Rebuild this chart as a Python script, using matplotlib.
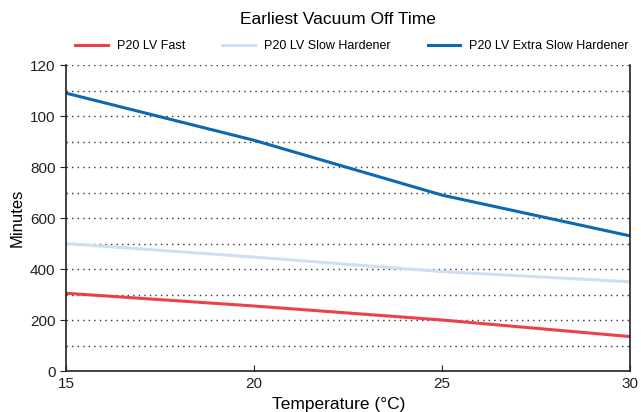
import matplotlib.pyplot as plt
from matplotlib.ticker import MultipleLocator

plt.rcParams['font.family'] = ['Liberation Sans', 'DejaVu Sans']

# Data
temperature = [15, 20, 25, 30]
fast = [305, 255, 200, 135]
slow = [500, 447, 390, 350]
extra_slow = [1090, 905, 690, 530]

y_ticks = [0, 200, 400, 600, 800, 1000, 1200]
y_labels = ["0", "200", "400", "600", "800", "100", "120"]
x_ticks = [15, 20, 25, 30]

fig = plt.figure(figsize=(6.41, 4.12), dpi=100)
ax = fig.add_axes([0.103, 0.0995, 0.880, 0.7425])

ax.plot(temperature, fast, color="#e8434b", lw=2.2, label="P20 LV Fast")
ax.plot(temperature, slow, color="#cfdef2", lw=2.2, label="P20 LV Slow Hardener")
ax.plot(temperature, extra_slow, color="#0a69b1", lw=2.2, label="P20 LV Extra Slow Hardener")

ax.set_xlim(15, 30)
ax.set_ylim(0, 1200)
ax.set_xticks(x_ticks)
ax.set_yticks(y_ticks)
ax.set_yticklabels(y_labels)
ax.yaxis.set_minor_locator(MultipleLocator(100))
ax.grid(axis="y", which="both", linestyle=(0, (1, 3)), color="#333333", lw=1.0)
ax.tick_params(axis="y", which="major", direction="out", length=4, labelsize=11, colors="#222222")
ax.tick_params(axis="y", which="minor", length=0)
ax.tick_params(axis="x", direction="in", length=4, labelsize=11, colors="#222222", pad=4)

for side in ["left", "bottom", "right"]:
    ax.spines[side].set_color("#222222")
    ax.spines[side].set_linewidth(1.2)
ax.spines["top"].set_visible(False)

ax.set_xlabel("Temperature (°C)", fontsize=12.5)
ax.xaxis.set_label_coords(0.483, -0.085)
ax.set_ylabel("Minutes", fontsize=12, labelpad=4)

fig.suptitle("Earliest Vacuum Off Time", fontsize=12.5, x=0.527, y=0.97)
fig.legend(loc="center", bbox_to_anchor=(0.549, 0.888), ncol=3, frameon=False,
           fontsize=9, handlelength=2.6, columnspacing=3.0, handletextpad=0.7)

fig.savefig("out.png", dpi=100)
